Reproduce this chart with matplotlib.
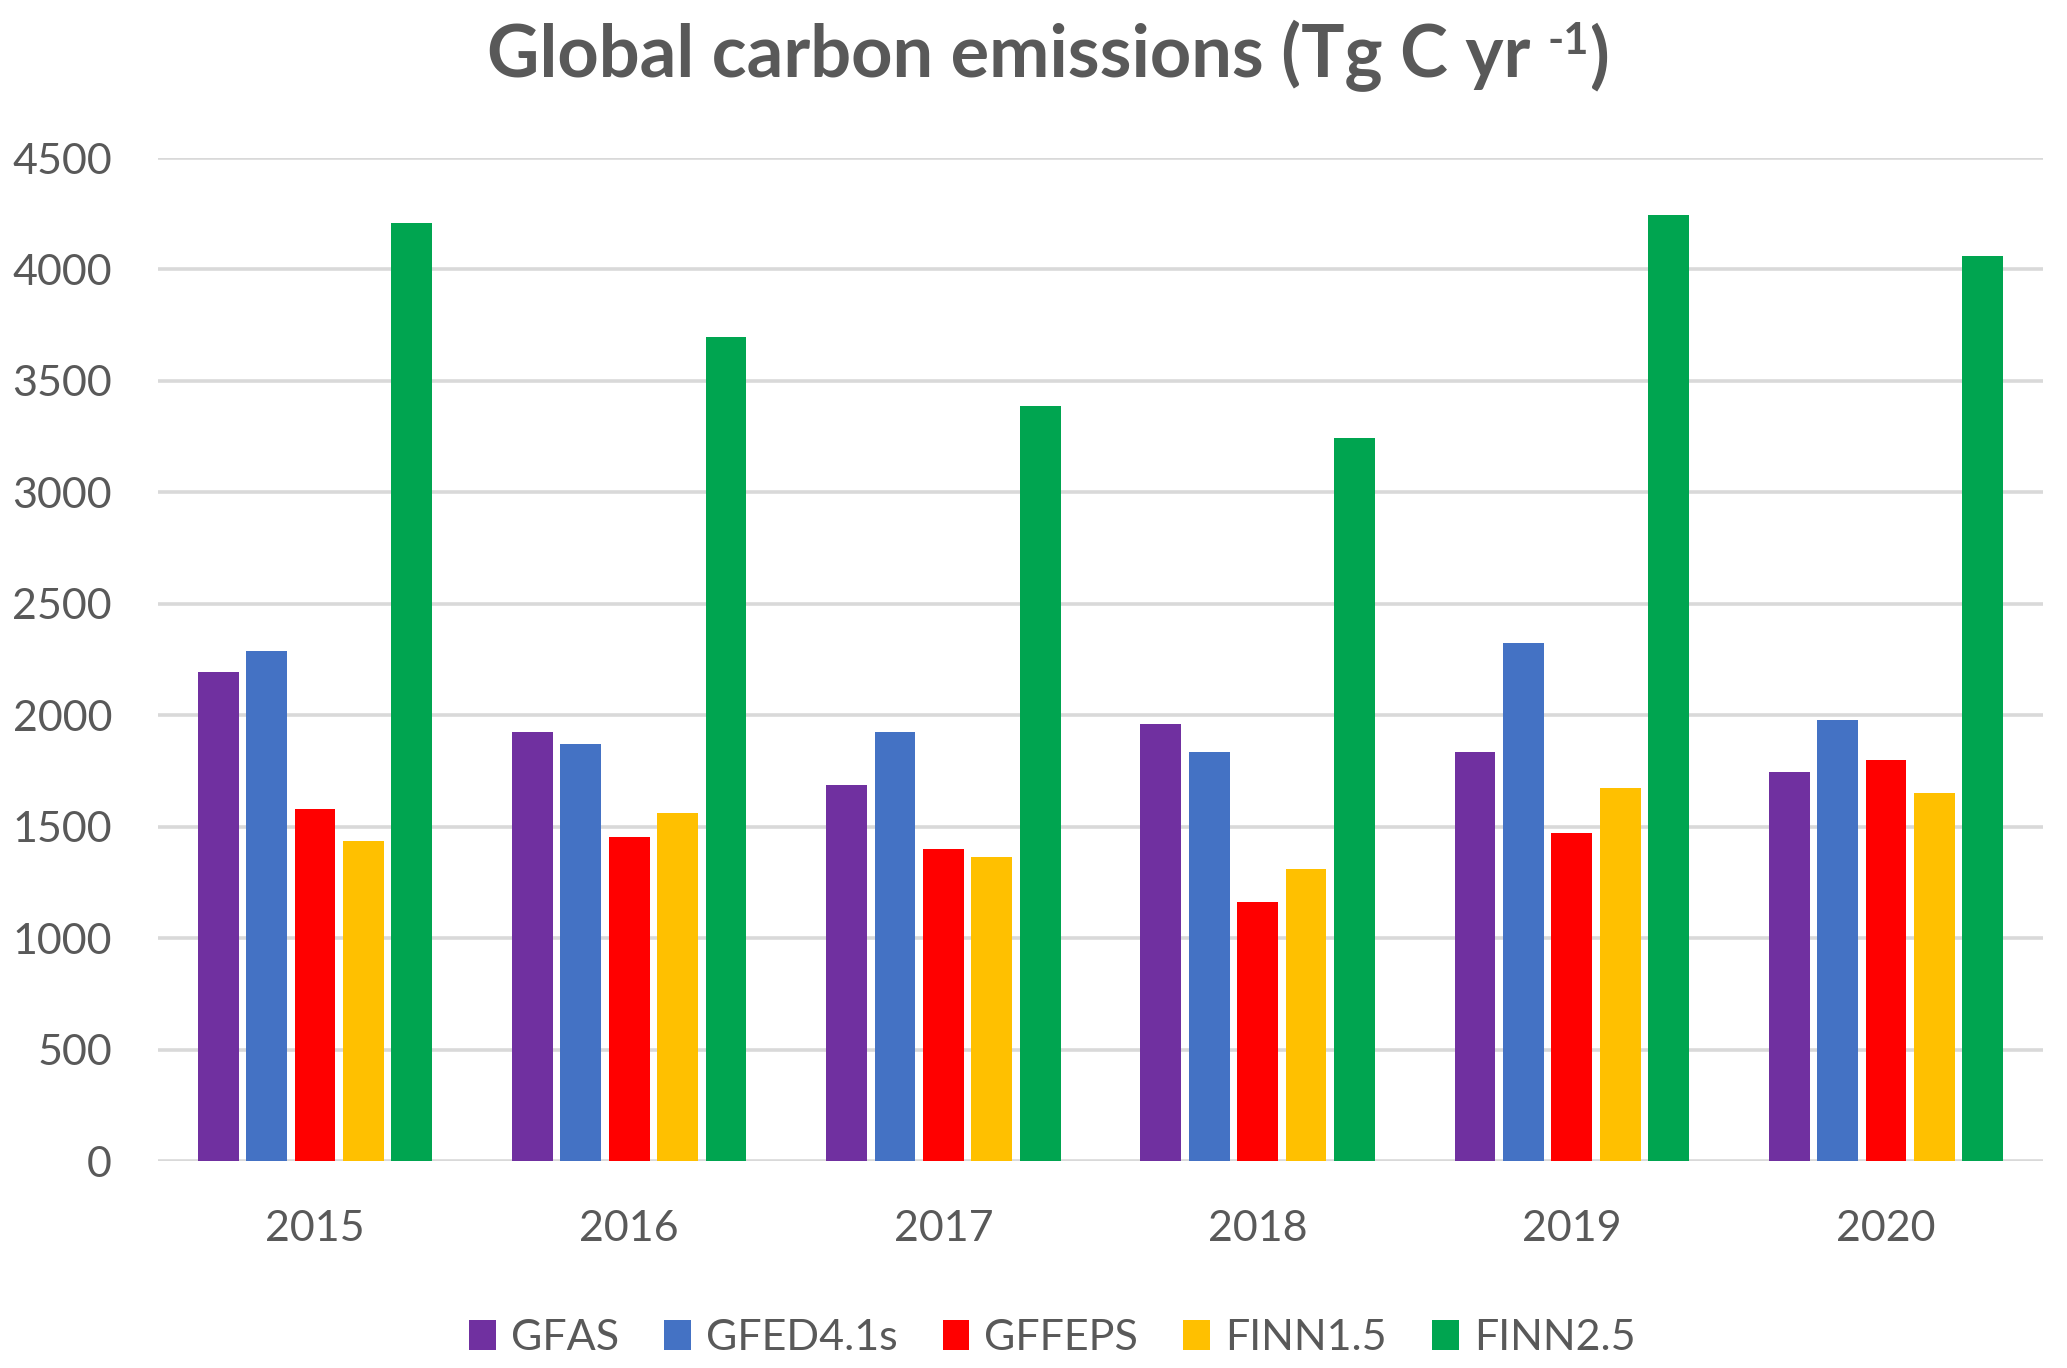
import matplotlib
matplotlib.use("Agg")
import matplotlib.pyplot as plt
import numpy as np
from matplotlib.patches import Patch

# values (Tg C per year)
years = ["2015", "2016", "2017", "2018", "2019", "2020"]
gfas = [2195, 1925, 1690, 1962, 1836, 1745]
gfed = [2289, 1871, 1926, 1836, 2325, 1980]
gffeps = [1582, 1455, 1402, 1165, 1474, 1800]
finn15 = [1439, 1563, 1365, 1311, 1673, 1654]
finn25 = [4208, 3697, 3389, 3244, 4243, 4062]
series_names = ["GFAS", "GFED4.1s", "GFFEPS", "FINN1.5", "FINN2.5"]
yticks = [0, 500, 1000, 1500, 2000, 2500, 3000, 3500, 4000, 4500]

colors = ["#7030A0", "#4472C4", "#FF0000", "#FFC000", "#00A550"]
text_col = "#595959"
grid_col = "#D9D9D9"
font = "Lato"

plt.rcParams['font.family'] = [font, 'DejaVu Sans']

fig = plt.figure(figsize=(20.67, 13.68), dpi=100)
ax = fig.add_axes([0.0764, 0.151, 0.912, 0.7335])

x = np.arange(len(years))
step = 0.154
width = 0.13
all_series = [gfas, gfed, gffeps, finn15, finn25]
for i, (vals, col) in enumerate(zip(all_series, colors)):
    ax.bar(x + (i - 2) * step, vals, width=width, color=col, zorder=3)

ax.set_xlim(-0.5, len(years) - 0.5)
ax.set_ylim(0, 4500)
ax.set_yticks(yticks)
ax.set_xticks(x)
ax.set_xticklabels(years)
ax.yaxis.grid(True, color=grid_col, linewidth=2.6, zorder=0)
ax.set_axisbelow(True)
for s in ax.spines.values():
    s.set_visible(False)
ax.tick_params(axis='both', length=0, labelsize=31, labelcolor=text_col)
ax.tick_params(axis='y', pad=33)
ax.tick_params(axis='x', pad=35)

# title, with a raised "-1" like the original
tsize = 52
t1 = fig.text(0.2355, 0.9435, "Global carbon emissions (Tg C yr ", ha='left',
              va='baseline', fontsize=tsize, weight='bold', color=text_col)
t2 = ax.annotate("-1", xy=(1, 1), xycoords=t1, xytext=(0, -1),
                 textcoords='offset points', ha='left', va='top',
                 fontsize=tsize * 0.6, weight='bold', color=text_col,
                 annotation_clip=False)
t3 = ax.annotate(")", xy=(1, 0), xycoords=(t2, t1), ha='left', va='bottom',
                 fontsize=tsize, weight='bold', color=text_col,
                 annotation_clip=False)

handles = [Patch(facecolor=c, edgecolor='none') for c in colors]
fig.legend(handles, series_names, loc='center', ncol=5,
           bbox_to_anchor=(0.509, 0.022), frameon=False, fontsize=31,
           handlelength=0.62, handleheight=0.7, handletextpad=0.35,
           columnspacing=1.05, labelcolor=text_col)

fig.savefig("out.png", dpi=100, facecolor='white')
